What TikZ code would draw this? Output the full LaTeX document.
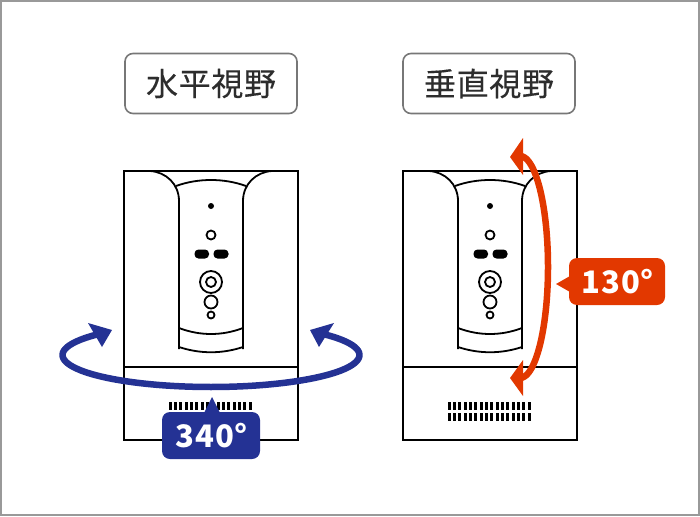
\documentclass[tikz,border=0pt]{standalone}
\usepackage{fontspec}
\setmainfont{Noto Sans CJK JP}
\definecolor{framegray}{RGB}{153,153,153}
\definecolor{titlegray}{RGB}{119,119,119}
\definecolor{titletext}{RGB}{45,45,45}
\definecolor{darkblue}{RGB}{36,50,148}
\definecolor{darkorange}{RGB}{226,56,0}
\usetikzlibrary{shapes}

\begin{document}
\begin{tikzpicture}[x=1pt, y=-1pt]
        \tikzset{title/.style={draw=titlegray, line width=1.6pt, rounded corners=8pt, minimum width=172pt,
                        minimum height=60pt, inner sep=0pt, text=titletext,
                        font=\fontsize{32}{32}\selectfont\addfontfeature{LetterSpace=2,FakeBold=0.25}},
                angle/.style={rounded corners=8pt, minimum width=98pt, minimum height=47pt, inner sep=0pt,
                        text=white, execute at begin node={\hspace*{1.5pt}},
                        font=\fontsize{31}{31}\selectfont\bfseries\addfontfeature{LetterSpace=3}},
                outline/.style={draw=black, line width=1.8pt},
                pics/device/.style={code={
                        \draw[outline] (124, 171) rectangle (298, 440);
                        \draw[outline] (124, 367) -- (298, 367);
                        % side curves of the front panel
                        \draw[outline] (150, 171) .. controls (166, 172) and (179, 184) .. (179, 201) -- (179, 349);
                        \draw[outline] (272, 171) .. controls (256, 172) and (243, 184) .. (243, 201) -- (243, 349);
                        \draw[outline] (176, 186) .. controls (198, 178) and (224, 178) .. (246, 186);
                        \draw[outline] (179, 328) .. controls (200, 336) and (222, 336) .. (243, 328);
                        \draw[outline] (179, 347) .. controls (200, 354) and (222, 354) .. (243, 347);
                        % buttons
                        \fill (211, 206) circle (3pt);
                        \draw[outline] (211, 235) circle (4.5pt);
                        \fill[rounded corners=4pt] (194.5, 249.5) rectangle (209, 258.5);
                        \fill[rounded corners=4pt] (213.5, 249.5) rectangle (228.5, 258.5);
                        \draw[outline] (211, 282) circle (11pt);
                        \draw[outline] (211, 282) circle (5pt);
                        \draw[outline] (211, 302) circle (6.5pt);
                        \draw[outline] (211, 315) circle (3.5pt);
                        % vents
                        \foreach \i in {0,...,15} {
                                \fill ({168.7+5.33*\i}, 402.3) rectangle ++(3, 8);
                                \fill ({168.7+5.33*\i}, 413.3) rectangle ++(3, 8);
                        }
                }}}

        \useasboundingbox (0, 0) rectangle (700, 516);
        \draw[framegray, line width=2pt] (1, 1) rectangle (699, 515);

        \node[title] (title1) at (211, 83.5) {水平視野};
        \node[title] (title2) at (489, 83.5) {垂直視野};

        \pic at (0, 0) {device};
        \pic at (279, 0) {device};

        % horizontal range
        \draw[darkblue, line width=6.5pt] plot[domain=-41:221, samples=80, smooth] ({211+148.5*cos(\x)}, {355+32*sin(\x)});
        \fill[darkblue] (112, 330) -- (88, 323) -- (102, 347) -- cycle;
        \fill[darkblue] (310, 330) -- (334, 323) -- (319, 347) -- cycle;
        \node[angle, fill=darkblue] (hrange) at (211, 435.5) {340°};
        \fill[darkblue] (212, 397) -- (204, 413) -- (220, 413) -- cycle;

        % vertical range
        \draw[darkorange, line width=6.5pt] plot[domain=-90:90, samples=60, smooth] ({520+28*cos(\x)}, {267+111*sin(\x)});
        \fill[darkorange] (510, 157) -- (523, 138) -- (523, 175) -- cycle;
        \fill[darkorange] (510, 378) -- (523, 360) -- (523, 396) -- cycle;
        \node[angle, fill=darkorange, minimum width=96pt] (vrange) at (617, 281.5) {130°};
        \fill[darkorange] (556, 284) -- (570, 276) -- (570, 292) -- cycle;

    \end{tikzpicture}
\end{document}
